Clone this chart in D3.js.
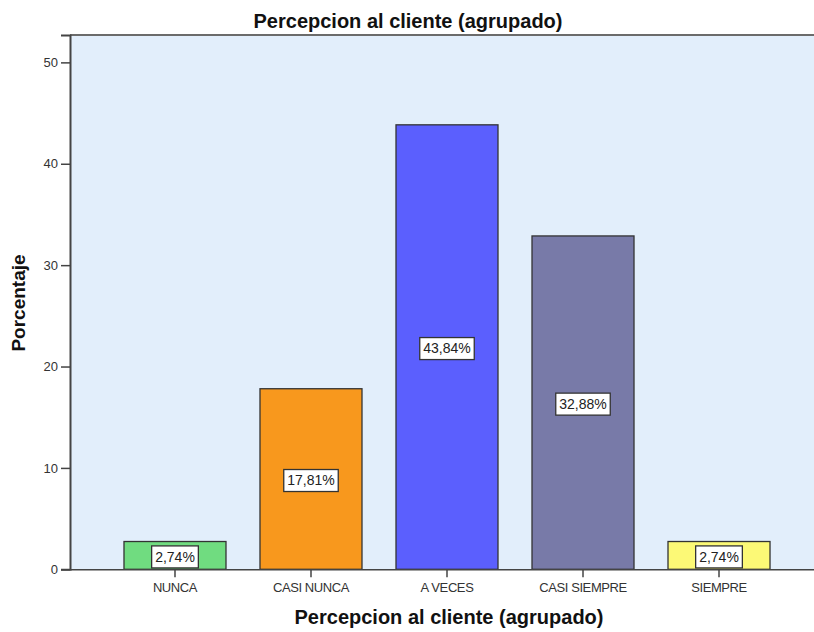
<!DOCTYPE html>
<html><head><meta charset="utf-8">
<script src="https://cdn.jsdelivr.net/npm/d3@7"></script>
<style>html,body{margin:0;padding:0;background:#fff;overflow:hidden}</style>
</head><body>
<svg id="c" width="814" height="632"></svg>
<script>
const categories = ["NUNCA", "CASI NUNCA", "A VECES", "CASI SIEMPRE", "SIEMPRE"];
const values = [2.74, 17.81, 43.84, 32.88, 2.74];
const valueLabels = ["2,74%", "17,81%", "43,84%", "32,88%", "2,74%"];
const colors = ["#70dc80", "#f8981d", "#5b5ffe", "#787aa8", "#fcf976"];
const yTicks = [0, 10, 20, 30, 40, 50];
const title = "Percepcion al cliente (agrupado)";
const xTitle = "Percepcion al cliente (agrupado)";
const yTitle = "Porcentaje";

const FONT = "'Liberation Sans', Arial, sans-serif";
const svg = d3.select("#c");
const plotLeft = 70, plotRight = 824, plotTop = 35, plotBottom = 569.3;

const x = d3.scaleBand().domain(categories).range([plotLeft, plotRight]).paddingInner(0.25).paddingOuter(0.397);
const y = d3.scaleLinear().domain([0, 52.7]).range([plotBottom, plotTop]);

// plot background
svg.append("rect").attr("x", plotLeft).attr("y", plotTop).attr("width", plotRight - plotLeft).attr("height", plotBottom - plotTop)
  .attr("fill", "#e2eefb");
// top frame line
svg.append("line").attr("x1", plotLeft).attr("x2", plotRight).attr("y1", plotTop).attr("y2", plotTop)
  .attr("stroke", "#6b6b6b").attr("stroke-width", 2);

// bars
svg.append("g").selectAll("rect").data(categories).join("rect")
  .attr("x", d => x(d)).attr("width", x.bandwidth())
  .attr("y", (d, i) => y(values[i])).attr("height", (d, i) => y(0) - y(values[i]))
  .attr("fill", (d, i) => colors[i]).attr("stroke", "#333").attr("stroke-width", 1.3);

// y axis
const ya = svg.append("g").attr("transform", `translate(${plotLeft},0)`)
  .call(d3.axisLeft(y).tickValues(yTicks).tickSize(9).tickPadding(3).tickFormat(d3.format("d")));
ya.select(".domain").attr("stroke", "#444").attr("stroke-width", 2);
ya.selectAll(".tick line").attr("stroke", "#444").attr("stroke-width", 1.5);
ya.selectAll(".tick text").attr("font-family", FONT).attr("font-size", 13).attr("fill", "#333");

// x axis
const xa = svg.append("g").attr("transform", `translate(0,${plotBottom})`)
  .call(d3.axisBottom(x).tickSize(8).tickPadding(5).tickSizeOuter(0));
xa.select(".domain").attr("stroke", "#444").attr("stroke-width", 1.5);
xa.selectAll(".tick line").attr("stroke", "#444").attr("stroke-width", 1.5);
xa.selectAll(".tick text").attr("font-family", FONT).attr("font-size", 13).attr("fill", "#333")
  .attr("letter-spacing", "-0.4px");

// value labels
const lg = svg.append("g").selectAll("g").data(categories).join("g")
  .attr("transform", (d, i) => `translate(${x(d) + x.bandwidth() / 2},${(y(0) + y(values[i])) / 2 + 1.5})`);
lg.append("text").attr("text-anchor", "middle").attr("dy", "0.35em")
  .attr("font-family", FONT).attr("font-size", 14).attr("fill", "#222")
  .text((d, i) => valueLabels[i]);
lg.each(function () {
  const g = d3.select(this);
  const b = g.select("text").node().getBBox();
  g.insert("rect", "text").attr("x", b.x - 3.5).attr("y", -11).attr("width", b.width + 7).attr("height", 22)
    .attr("fill", "#fff").attr("stroke", "#333").attr("stroke-width", 1.3);
});

// titles
svg.append("text").attr("x", 408).attr("y", 28).attr("text-anchor", "middle")
  .attr("font-family", FONT).attr("font-weight", "bold").attr("font-size", 20).attr("fill", "#111").text(title);
svg.append("text").attr("x", 449).attr("y", 624).attr("text-anchor", "middle")
  .attr("font-family", FONT).attr("font-weight", "bold").attr("font-size", 20).attr("fill", "#111").text(xTitle);
svg.append("text").attr("transform", "translate(25,303) rotate(-90)").attr("text-anchor", "middle")
  .attr("font-family", FONT).attr("font-weight", "bold").attr("font-size", 19).attr("fill", "#111").text(yTitle);
</script>
</body></html>
